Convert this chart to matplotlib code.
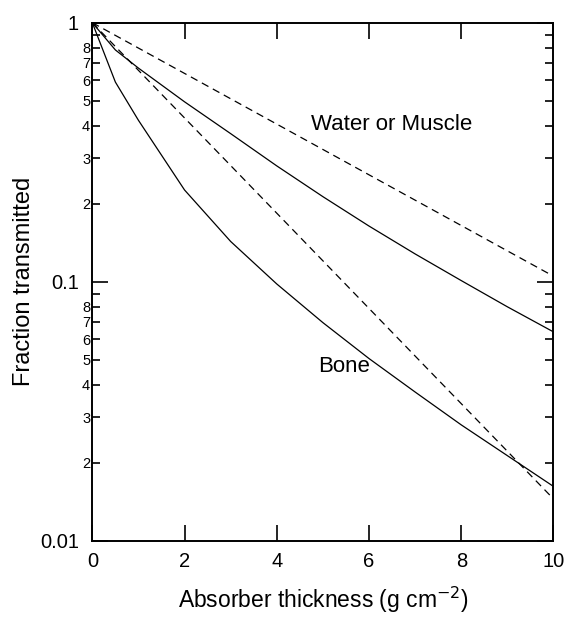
import matplotlib
matplotlib.use("Agg")
import matplotlib.pyplot as plt
from matplotlib.ticker import FixedLocator, FixedFormatter

plt.rcParams['font.family'] = ['Liberation Sans', 'DejaVu Sans']

# ---- data ----
thickness = [0, 0.5, 1, 2, 3, 4, 5, 6, 7, 8, 9, 10]
water_broad = [1.0, 0.785, 0.668, 0.495, 0.373, 0.280, 0.213, 0.164, 0.128, 0.101, 0.080, 0.064]
bone_broad = [1.0, 0.59, 0.42, 0.226, 0.143, 0.098, 0.0695, 0.0505, 0.0375, 0.0280, 0.0213, 0.0162]
thickness_narrow = [0, 10]
water_narrow = [1.0, 0.105]
bone_narrow = [1.0, 0.0145]

x_ticks = [0, 2, 4, 6, 8, 10]
x_ticklabels = ["0", "2", "4", "6", "8", "10"]
y_major = [0.01, 0.1, 1]
y_major_labels = ["0.01", "0.1", "1"]
y_minor = [2e-2, 3e-2, 4e-2, 5e-2, 6e-2, 7e-2, 8e-2, 9e-2,
           0.2, 0.3, 0.4, 0.5, 0.6, 0.7, 0.8, 0.9]
y_minor_labels = ["2", "3", "4", "5", "6", "7", "8", "",
                  "2", "3", "4", "5", "6", "7", "8", ""]

fig = plt.figure(figsize=(5.66, 6.19), dpi=100)
ax = fig.add_axes([0.1631, 0.1265, 0.8148, 0.8368])

lw = 0.9
ax.plot(thickness, water_broad, color='black', lw=lw)
ax.plot(thickness, bone_broad, color='black', lw=lw)
ax.plot(thickness_narrow, water_narrow, color='black', lw=lw, dashes=(6, 4))
ax.plot(thickness_narrow, bone_narrow, color='black', lw=lw, dashes=(6, 4))

ax.set_yscale('log')
ax.set_xlim(0, 10)
ax.set_ylim(0.01, 1)

ax.xaxis.set_major_locator(FixedLocator(x_ticks))
ax.xaxis.set_major_formatter(FixedFormatter(x_ticklabels))
ax.xaxis.set_minor_locator(FixedLocator([]))
ax.yaxis.set_major_locator(FixedLocator(y_major))
ax.yaxis.set_major_formatter(FixedFormatter(y_major_labels))
ax.yaxis.set_minor_locator(FixedLocator(y_minor))
ax.yaxis.set_minor_formatter(FixedFormatter(y_minor_labels))

ax.tick_params(axis='x', which='major', direction='in', length=11.5, width=1.2,
               top=True, bottom=True, labelsize=14.5, pad=8)
ax.tick_params(axis='y', which='major', direction='in', length=11.5, width=1.2,
               left=True, right=True, labelsize=14.5, pad=9.5)
ax.tick_params(axis='y', which='minor', direction='in', length=5.5, width=1.2,
               left=True, right=True, labelsize=10.5, pad=1.5)

for s in ax.spines.values():
    s.set_linewidth(1.4)

ax.set_xlabel("Absorber thickness (g cm$^{-2}$)", fontsize=16.5, labelpad=10)
ax.set_ylabel("Fraction transmitted", fontsize=17, labelpad=3.5)

ax.text(4.75, 0.385, "Water or Muscle", fontsize=16, ha='left', va='baseline')
ax.text(4.9, 0.0447, "Bone", fontsize=16, ha='left', va='baseline')

fig.savefig("out.png", dpi=100)
